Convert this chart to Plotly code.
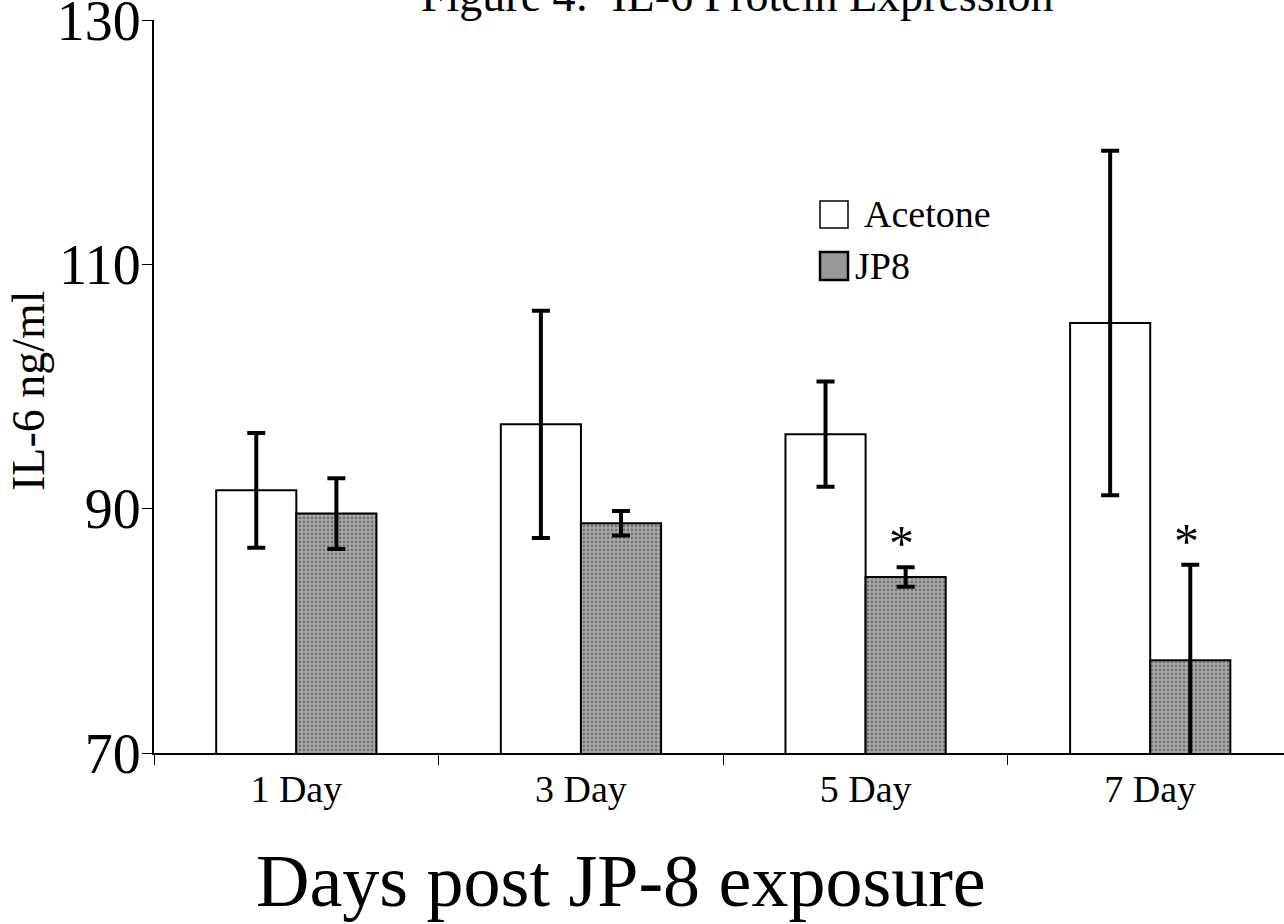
import plotly.graph_objects as go

categories = ["1 Day", "3 Day", "5 Day", "7 Day"]
acetone = [91.5, 96.9, 96.1, 105.2]
acetone_err = [4.7, 9.3, 4.3, 14.1]
jp8 = [89.6, 88.8, 84.4, 77.6]
jp8_err = [2.9, 1.0, 0.8, 7.8]
significant = [False, False, True, True]

FONT = "Liberation Serif"
# plot area: x 154..1284, y 20..753 on the page (page body margin removed)
L, T, PW, PH = 154, 20, 1130, 733

def px(x):  # page x -> paper
    return (x - L) / PW

def py(y):  # page y -> paper
    return 1 - (y - T) / PH

fig = go.Figure()
fig.add_trace(go.Bar(
    x=categories, y=acetone, name="Acetone",
    marker=dict(color="white", line=dict(color="black", width=2)),
    error_y=dict(type="data", array=acetone_err, color="black", thickness=4, width=9),
    showlegend=False,
))
fig.add_trace(go.Bar(
    x=categories, y=jp8, name="JP8",
    marker=dict(color="#979797", line=dict(color="black", width=2),
                pattern=dict(shape=".", bgcolor="#acacac", fgcolor="#383838", size=4, solidity=0.38)),
    error_y=dict(type="data", array=jp8_err, color="black", thickness=4, width=9),
    showlegend=False,
))

# asterisks over significant JP8 bars
for c, v, e, s in zip(categories, jp8, jp8_err, significant):
    if s:
        fig.add_annotation(x=c, y=v + e, yref="y", xref="x", text="*", showarrow=False,
                           xshift=36, yshift=-6, yanchor="bottom",
                           font=dict(family=FONT, size=50, color="black"))

# manual legend with large swatches
fig.add_shape(type="rect", xref="paper", yref="paper",
              x0=px(820), x1=px(848), y0=py(228), y1=py(201),
              line=dict(color="black", width=1.5), fillcolor="white")
fig.add_shape(type="rect", xref="paper", yref="paper",
              x0=px(820), x1=px(848), y0=py(280), y1=py(252),
              line=dict(color="black", width=2.5), fillcolor="#979797")
fig.add_annotation(xref="paper", yref="paper", x=px(862), y=py(214),
                   text="Acetone", showarrow=False, xanchor="left", yanchor="middle",
                   font=dict(family=FONT, size=38, color="black"))
fig.add_annotation(xref="paper", yref="paper", x=px(853), y=py(266),
                   text="JP8", showarrow=False, xanchor="left", yanchor="middle",
                   font=dict(family=FONT, size=38, color="black"))

# title (cut off at top like the reference)
fig.add_annotation(xref="paper", yref="paper", x=px(737), y=py(23),
                   text="Figure 4:  IL-6 Protein Expression", showarrow=False,
                   xanchor="center", yanchor="bottom",
                   font=dict(family=FONT, size=46, color="black"))

# axis titles
fig.add_annotation(xref="paper", yref="paper", x=px(621), y=py(881),
                   text="Days post JP-8 exposure", showarrow=False,
                   xanchor="center", yanchor="middle",
                   font=dict(family=FONT, size=74, color="black"))
fig.add_annotation(xref="paper", yref="paper", x=px(28), y=py(391),
                   text="IL-6 ng/ml", showarrow=False, textangle=-90,
                   xanchor="center", yanchor="middle",
                   font=dict(family=FONT, size=46, color="black"))

fig.update_layout(
    width=1284, height=924,
    margin=dict(l=L, r=0, t=T, b=924 - T - PH),
    paper_bgcolor="white", plot_bgcolor="white",
    barmode="group", bargap=0.437, bargroupgap=0,
    font=dict(family=FONT, color="black"),
    xaxis=dict(
        range=[-0.5, 3.47], showgrid=False, showline=True, linecolor="black", linewidth=1.5,
        ticks="outside", tickson="boundaries", ticklen=10, tickwidth=1, tickcolor="black",
        tickfont=dict(family=FONT, size=38, color="black"), ticklabelstandoff=2,
        automargin=False,
    ),
    yaxis=dict(
        range=[70, 130], tickvals=[70, 90, 110, 130], showgrid=False, zeroline=False,
        showline=True, linecolor="black", linewidth=2,
        ticks="outside", ticklen=10, tickwidth=1, tickcolor="black",
        tickfont=dict(family=FONT, size=56, color="black"),
        ticklabeloverflow="allow", ticklabelstandoff=-10,
        automargin=False,
    ),
)

fig.write_html("out.html", config={"displayModeBar": False},
               post_script="document.body.style.margin='0';document.body.style.overflow='hidden';")
